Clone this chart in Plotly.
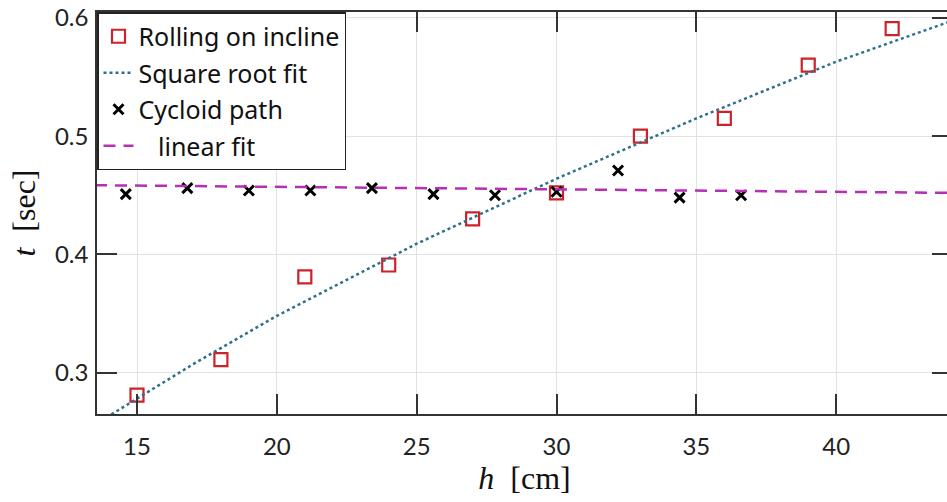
import plotly.graph_objects as go

# Rolling on incline (measured)
roll_h = [15, 18, 21, 24, 27, 30, 33, 36, 39, 42]
roll_t = [0.281, 0.311, 0.381, 0.391, 0.430, 0.452, 0.500, 0.515, 0.560, 0.591]

# Square root fit
sqrt_h = [13.9, 17, 20, 25, 30, 35, 40, 44.2]
sqrt_t = [0.262, 0.307, 0.348, 0.409, 0.464, 0.515, 0.563, 0.598]

# Cycloid path (measured)
cyc_h = [14.6, 16.8, 19.0, 21.2, 23.4, 25.6, 27.8, 30.0, 32.2, 34.4, 36.6]
cyc_t = [0.451, 0.456, 0.454, 0.454, 0.456, 0.451, 0.450, 0.453, 0.471, 0.448, 0.450]

# Linear fit
lin_h = [13.5, 44.2]
lin_t = [0.4585, 0.452]

x_ticks = [15, 20, 25, 30, 35, 40]
y_ticks = [0.3, 0.4, 0.5, 0.6]

fig = go.Figure()
fig.add_trace(go.Scatter(
    x=roll_h, y=roll_t, mode="markers", name="Rolling on incline",
    legendgroup="a",
    marker=dict(symbol="square-open", size=13, color="#cc2229", line=dict(width=2.2, color="#cc2229")),
))
fig.add_trace(go.Scatter(
    x=sqrt_h, y=sqrt_t, mode="lines", name="Square root fit",
    legendgroup="b",
    line=dict(color="#2e6f8c", width=2.5, dash="dot"),
))
fig.add_trace(go.Scatter(
    x=cyc_h, y=cyc_t, mode="markers", name="Cycloid path",
    legendgroup="c",
    marker=dict(symbol="x-thin", size=10, color="black", line=dict(width=3, color="black")),
))
fig.add_trace(go.Scatter(
    x=lin_h, y=lin_t, mode="lines", name="\u00a0\u00a0\u00a0linear fit",
    legendgroup="d",
    line=dict(color="#b530b5", width=2.5, dash="12px,8px"),
))

axis_common = dict(
    showline=True, linecolor="#333333", linewidth=1.5, mirror="ticks",
    ticks="inside", ticklen=20, tickwidth=1.5, tickcolor="#333333",
    showgrid=True, gridcolor="#e2e2e2", gridwidth=1, zeroline=False,
    tickfont=dict(family="Lato", size=24, color="#222222"),
)

fig.update_layout(
    width=955, height=502,
    margin=dict(l=97, r=1, t=12, b=88),
    paper_bgcolor="white", plot_bgcolor="white",
    xaxis=dict(range=[13.57, 44.14], tickvals=x_ticks, ticktext=[str(v) for v in x_ticks],
               ticklabelstandoff=10,
               title=dict(text="<i>h</i>\u00a0\u00a0[cm]", font=dict(family="Liberation Serif", size=32, color="#111111"), standoff=8),
               **axis_common),
    yaxis=dict(range=[0.265, 0.605], tickvals=y_ticks, ticktext=["0.3", "0.4", "0.5", "0.6"],
               ticklabelstandoff=2,
               title=dict(text="<i>t</i>\u00a0\u00a0[sec]", font=dict(family="Liberation Serif", size=32, color="#111111"), standoff=10),
               **axis_common),
    legend=dict(x=0, y=1, xanchor="left", yanchor="top", bgcolor="white",
                bordercolor="#222222", borderwidth=1.5,
                font=dict(family="Noto Sans", size=25, color="#111111"),
                tracegroupgap=1, itemwidth=30),
    showlegend=True,
)

fig.write_html("out.html", post_script="document.documentElement.style.overflow='hidden';document.body.style.overflow='hidden';document.body.style.margin='0';")
